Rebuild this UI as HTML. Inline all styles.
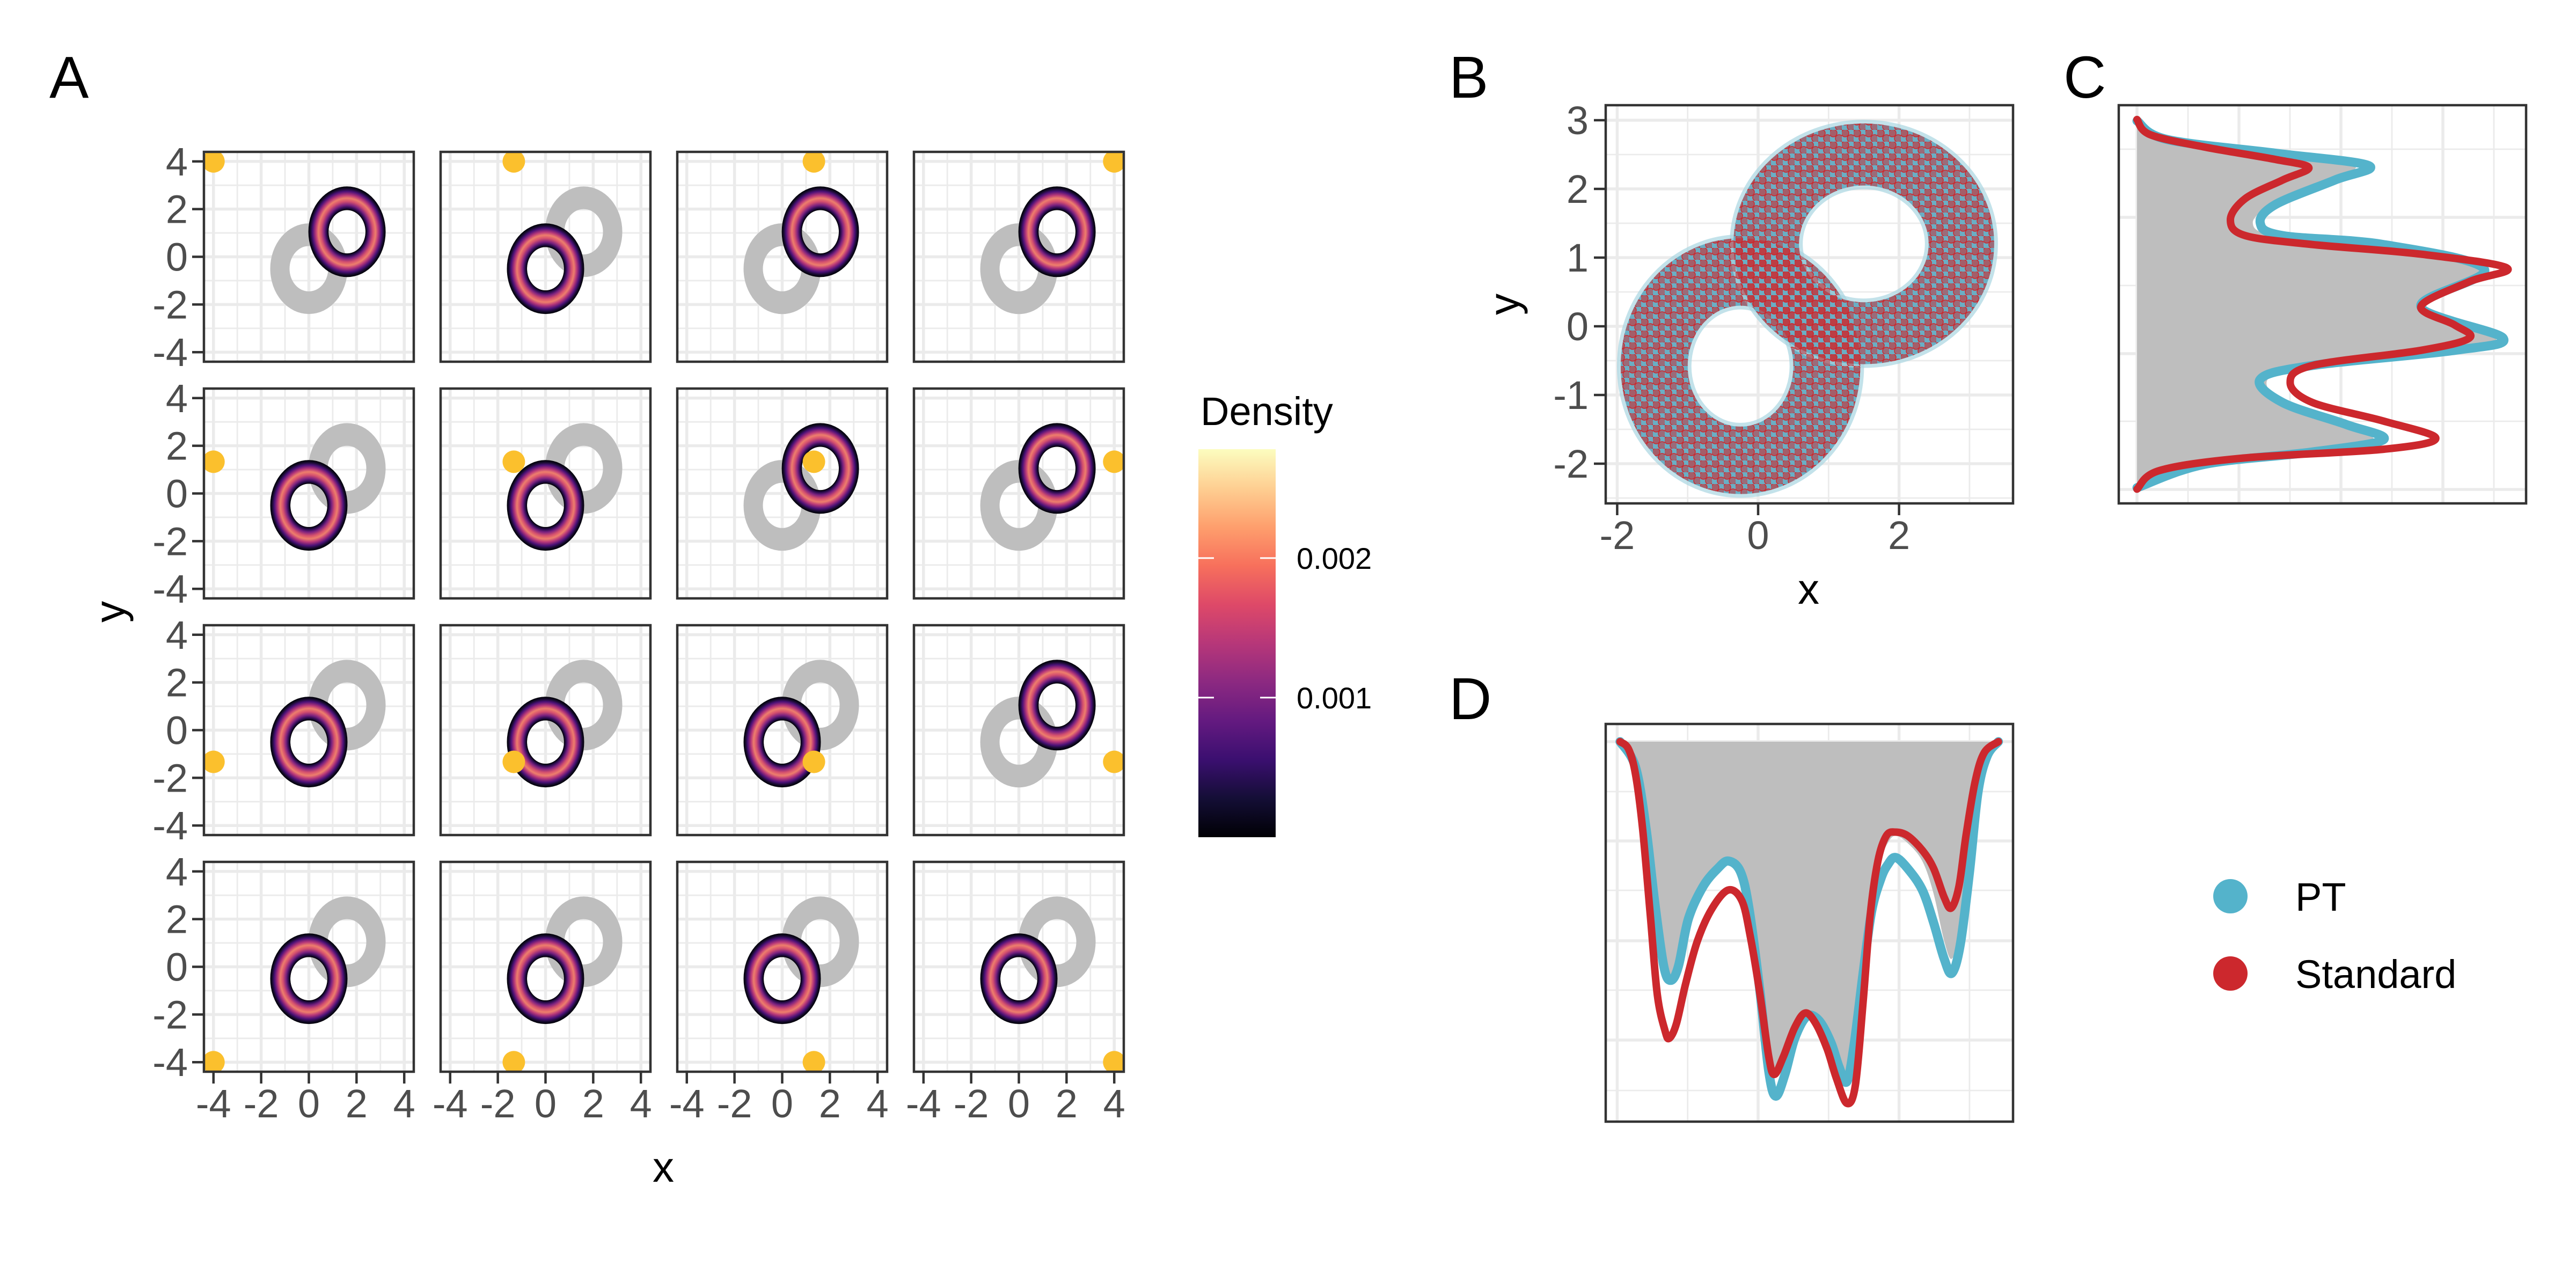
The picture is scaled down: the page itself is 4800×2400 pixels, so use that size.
<!DOCTYPE html>
<html>
<head>
<meta charset="utf-8">
<style>
  html,body{margin:0;padding:0;background:#fff;}
  svg{display:block;}
  text{font-family:"Liberation Sans", sans-serif;}
</style>
</head>
<body>
<svg id="fig" xmlns="http://www.w3.org/2000/svg" width="4800" height="2400" viewBox="0 0 4800 2400">
  <defs>
    <linearGradient id="magmaBar" x1="0" y1="1" x2="0" y2="0">
      <stop offset="0" stop-color="#000004"/>
      <stop offset="0.1" stop-color="#140e36"/>
      <stop offset="0.2" stop-color="#3b0f70"/>
      <stop offset="0.3" stop-color="#641a80"/>
      <stop offset="0.4" stop-color="#8c2981"/>
      <stop offset="0.5" stop-color="#b73779"/>
      <stop offset="0.6" stop-color="#de4968"/>
      <stop offset="0.7" stop-color="#f7705c"/>
      <stop offset="0.8" stop-color="#fe9f6d"/>
      <stop offset="0.9" stop-color="#fecf92"/>
      <stop offset="1" stop-color="#fcfdbf"/>
    </linearGradient>
    <radialGradient id="ringGrad" cx="0.5" cy="0.5" r="0.5">
      <stop offset="0" stop-color="#000" stop-opacity="0"/>
      <stop offset="0.475" stop-color="#000" stop-opacity="0"/>
      <stop offset="0.48" stop-color="#000004"/>
      <stop offset="0.53" stop-color="#2a0c4e"/>
      <stop offset="0.59" stop-color="#7a2180"/>
      <stop offset="0.67" stop-color="#d5506e"/>
      <stop offset="0.74" stop-color="#ee7f6c"/>
      <stop offset="0.81" stop-color="#b73779"/>
      <stop offset="0.89" stop-color="#4c1178"/>
      <stop offset="0.95" stop-color="#150a2c"/>
      <stop offset="1" stop-color="#000004"/>
    </radialGradient>
    <pattern id="redDots" patternUnits="userSpaceOnUse" width="22" height="22">
      <circle cx="6" cy="6" r="7" fill="#cc282d" fill-opacity="0.6" stroke="#cc282d" stroke-width="1.5"/>
      <circle cx="17" cy="16" r="7" fill="#cc282d" fill-opacity="0.5" stroke="#cc282d" stroke-width="1.5"/>
    </pattern>
  </defs>
</svg>
<script>
// ---------- DATA ----------
// Panel A
const aRingCenterX = [0, 1.6];
const aRingCenterY = [-0.5, 1.05];
const aRingRx = [1.62, 1.62];
const aRingRy = [1.9, 1.9];
const aRingInner = [0.5, 0.5];
const aFacetRing = [1,0,1,1, 0,0,1,1, 0,0,0,1, 0,0,0,0];
const aDotX = [-4, -1.33, 1.33, 4];
const aDotY = [4, 1.33, -1.33, -4];
const aTicks = [-4, -2, 0, 2, 4];
const aTickLabels = ["-4", "-2", "0", "2", "4"];
// Colourbar
const cbTicks = [0.001, 0.002];
const cbTickLabels = ["0.001", "0.002"];
const cbMax = 0.00278;
// Panel B
const bRingCenterX = [-0.25, 1.5];
const bRingCenterY = [-0.58, 1.2];
const bRingRx = [1.7, 1.85];
const bRingRy = [1.86, 1.75];
const bRingInRx = [0.75, 0.92];
const bRingInRy = [0.88, 0.85];
const bXTicks = [-2, 0, 2];
const bXTickLabels = ["-2", "0", "2"];
const bYTicks = [-2, -1, 0, 1, 2, 3];
const bYTickLabels = ["-2", "-1", "0", "1", "2", "3"];
// Panel C (density of y)
const cStdY = [3.01,2.79,2.61,2.43,2.31,2.13,1.86,1.55,1.32,1.19,1.05,0.85,0.65,0.29,0.02,-0.17,-0.35,-0.57,-0.82,-1.11,-1.38,-1.63,-1.79,-1.92,-2.10,-2.37];
const cStdD = [0,0.035,0.18,0.37,0.46,0.39,0.29,0.25,0.29,0.47,0.76,0.99,0.89,0.76,0.85,0.89,0.76,0.47,0.41,0.47,0.66,0.80,0.66,0.28,0.06,0];
const cPtY = [2.99,2.72,2.52,2.34,2.13,1.77,1.50,1.32,1.19,0.83,0.29,-0.17,-0.35,-0.57,-0.77,-1.11,-1.43,-1.65,-1.83,-2.01,-2.35];
const cPtD = [0,0.08,0.37,0.62,0.53,0.37,0.33,0.39,0.66,0.93,0.76,0.98,0.85,0.47,0.33,0.39,0.56,0.66,0.47,0.18,0];
const cGrayD = [0,0.07,0.34,0.58,0.50,0.36,0.31,0.37,0.63,0.93,0.75,0.96,0.83,0.46,0.35,0.39,0.54,0.63,0.45,0.16,0];
// Panel D (density of x)
const dStdX = [-1.96,-1.84,-1.74,-1.64,-1.53,-1.43,-1.32,-1.26,-1.16,-1.03,-0.86,-0.65,-0.42,-0.23,-0.11,0.02,0.15,0.23,0.36,0.52,0.67,0.82,0.98,1.11,1.26,1.38,1.49,1.59,1.70,1.82,1.95,2.12,2.33,2.49,2.64,2.74,2.85,2.95,3.08,3.21,3.41];
const dStdD = [0,0.02,0.09,0.24,0.48,0.70,0.80,0.82,0.78,0.67,0.55,0.46,0.41,0.44,0.54,0.69,0.87,0.92,0.87,0.79,0.75,0.78,0.85,0.93,1.0,0.95,0.72,0.48,0.33,0.26,0.25,0.26,0.30,0.35,0.43,0.46,0.40,0.26,0.11,0.03,0];
const dPtX = [-1.96,-1.74,-1.59,-1.47,-1.34,-1.24,-1.13,-0.99,-0.78,-0.57,-0.42,-0.25,-0.13,0.02,0.15,0.25,0.38,0.52,0.69,0.86,1.03,1.15,1.26,1.36,1.49,1.61,1.74,1.84,1.95,2.12,2.33,2.49,2.64,2.75,2.87,3.00,3.12,3.25,3.41];
const dPtD = [0,0.07,0.24,0.44,0.62,0.66,0.62,0.49,0.40,0.35,0.33,0.36,0.46,0.68,0.91,0.98,0.92,0.82,0.76,0.77,0.83,0.90,0.94,0.84,0.64,0.47,0.38,0.34,0.32,0.35,0.41,0.50,0.60,0.64,0.56,0.36,0.14,0.04,0];
const dGrayD = [0,0.07,0.24,0.44,0.62,0.66,0.62,0.49,0.40,0.35,0.33,0.34,0.42,0.62,0.85,0.92,0.88,0.80,0.75,0.77,0.83,0.90,0.95,0.84,0.64,0.45,0.33,0.28,0.26,0.28,0.33,0.42,0.55,0.60,0.52,0.34,0.13,0.04,0];
// Legend
const legendLabels = ["PT", "Standard"];
const legendColors = ["#54b3cb", "#cc282d"];

// ---------- HELPERS ----------
const NS = "http://www.w3.org/2000/svg";
const svg = document.getElementById("fig");
function el(tag, attrs, parent) {
  const e = document.createElementNS(NS, tag);
  for (const k in attrs) e.setAttribute(k, attrs[k]);
  (parent || svg).appendChild(e);
  return e;
}
function txt(s, attrs, parent) {
  const e = el("text", attrs, parent);
  e.textContent = s;
  return e;
}
function ellPath(cx, cy, rx, ry) {
  return "M" + (cx - rx) + "," + cy + "A" + rx + "," + ry + " 0 1,0 " + (cx + rx) + "," + cy + "A" + rx + "," + ry + " 0 1,0 " + (cx - rx) + "," + cy + "Z";
}
function ringPath(cx, cy, rxo, ryo, rxi, ryi) {
  return ellPath(cx, cy, rxo, ryo) + ellPath(cx, cy, rxi, ryi);
}
function smooth(pts) {
  let d = "M" + pts[0][0].toFixed(1) + "," + pts[0][1].toFixed(1);
  for (let i = 0; i < pts.length - 1; i++) {
    const p0 = pts[i - 1] || pts[i], p1 = pts[i], p2 = pts[i + 1], p3 = pts[i + 2] || pts[i + 1];
    const c1x = p1[0] + (p2[0] - p0[0]) / 6, c1y = p1[1] + (p2[1] - p0[1]) / 6;
    const c2x = p2[0] - (p3[0] - p1[0]) / 6, c2y = p2[1] - (p3[1] - p1[1]) / 6;
    d += "C" + c1x.toFixed(1) + "," + c1y.toFixed(1) + " " + c2x.toFixed(1) + "," + c2y.toFixed(1) + " " + p2[0].toFixed(1) + "," + p2[1].toFixed(1);
  }
  return d;
}
const GRID = "#ebebeb", BORDER = "#333333", TICKTXT = "#4d4d4d";
const TICKFS = 74, TITLEFS = 80, PANELFS = 110;

// panel letters
[["A",92,182],["B",2700,182],["C",3845,182],["D",2700,1340]].forEach(p => {
  const t = txt(p[0], {x:p[1], y:p[2], "font-size":PANELFS, fill:"#000"});
  
  
});

// ---------- PANEL A ----------
const gA = el("g", {});


const aSize = 391, aStep = 441, aLeft0 = 380, aTop0 = 283, aMin = -4.4, aMax = 4.4;
for (let r = 0; r < 4; r++) {
  for (let c = 0; c < 4; c++) {
    const idx = r * 4 + c;
    const left = aLeft0 + c * aStep, top = aTop0 + r * aStep;
    const sx = v => left + (v - aMin) / (aMax - aMin) * aSize;
    const sy = v => top + (aMax - v) / (aMax - aMin) * aSize;
    const k = aSize / (aMax - aMin);
    const g = el("g", {}, gA);
    
    
    const cp = el("clipPath", {id: "clipA" + idx}, g);
    el("rect", {x:left, y:top, width:aSize, height:aSize}, cp);
    const inner = el("g", {"clip-path": "url(#clipA" + idx + ")"}, g);
    el("rect", {x:left, y:top, width:aSize, height:aSize, fill:"#fff"}, inner);
    for (let v = -4; v <= 4; v++) {
      const w = (v % 2 === 0) ? 5.5 : 2.8;
      const gv = el("line", {x1:sx(v), x2:sx(v), y1:top, y2:top + aSize, stroke:GRID, "stroke-width":w}, inner);
      
      
      const gh = el("line", {x1:left, x2:left + aSize, y1:sy(v), y2:sy(v), stroke:GRID, "stroke-width":w}, inner);
      
      
    }
    for (let j = 0; j < aRingCenterX.length; j++) {
      const gr = el("path", {d: ringPath(sx(aRingCenterX[j]), sy(aRingCenterY[j]), aRingRx[j] * k, aRingRy[j] * k, aRingRx[j] * aRingInner[j] * k, aRingRy[j] * aRingInner[j] * k), fill:"#bebebe", "fill-rule":"evenodd"}, inner);
      
      
    }
    const ri = aFacetRing[idx];
    const ring = el("ellipse", {cx:sx(aRingCenterX[ri]), cy:sy(aRingCenterY[ri]), rx:aRingRx[ri] * k, ry:aRingRy[ri] * k, fill:"url(#ringGrad)"}, inner);
    
    
    const dot = el("circle", {cx:sx(aDotX[c]), cy:sy(aDotY[r]), r:21, fill:"#fbc02d"}, inner);
    
    
    const bd = el("rect", {x:left, y:top, width:aSize, height:aSize, fill:"none", stroke:BORDER, "stroke-width":4.5}, g);
    
    
    if (c === 0) {
      aTicks.forEach((t, i) => {
        const tk = el("line", {x1:left - 22, x2:left, y1:sy(t), y2:sy(t), stroke:BORDER, "stroke-width":4.5}, g);
        
        
        const tl = txt(aTickLabels[i], {x:left - 30, y:sy(t) + 26, "text-anchor":"end", "font-size":TICKFS, fill:TICKTXT}, g);
        
        
      });
    }
    if (r === 3) {
      aTicks.forEach((t, i) => {
        const tk = el("line", {x1:sx(t), x2:sx(t), y1:top + aSize, y2:top + aSize + 22, stroke:BORDER, "stroke-width":4.5}, g);
        
        
        const tl = txt(aTickLabels[i], {x:sx(t), y:top + aSize + 85, "text-anchor":"middle", "font-size":TICKFS, fill:TICKTXT}, g);
        
        
      });
    }
  }
}
const axA = txt("x", {x:1236, y:2202, "text-anchor":"middle", "font-size":TITLEFS, fill:"#000"}, gA);


const ayA = txt("y", {x:0, y:0, "text-anchor":"middle", "font-size":TITLEFS, fill:"#000", transform:"translate(232,1140) rotate(-90)"}, gA);



// ---------- COLOURBAR ----------
const gCb = el("g", {});


const cbX = 2233, cbW = 144, cbTop = 837, cbBot = 1560;
const cbY = v => cbBot - v / cbMax * (cbBot - cbTop);
const cbT = txt("Density", {x:2237, y:792, "font-size":74, fill:"#000"}, gCb);


const cbR = el("rect", {x:cbX, y:cbTop, width:cbW, height:cbBot - cbTop, fill:"url(#magmaBar)"}, gCb);


cbTicks.forEach((v, i) => {
  const l1 = el("line", {x1:cbX, x2:cbX + 29, y1:cbY(v), y2:cbY(v), stroke:"#fff", "stroke-width":3}, gCb);
  
  
  const l2 = el("line", {x1:cbX + cbW - 29, x2:cbX + cbW, y1:cbY(v), y2:cbY(v), stroke:"#fff", "stroke-width":3}, gCb);
  
  
  const tl = txt(cbTickLabels[i], {x:2416, y:cbY(v) + 20, "font-size":56, fill:"#000"}, gCb);
  
  
});

// ---------- PANEL B ----------
const gB = el("g", {});


const bL = 2992, bR = 3751, bT = 196, bBt = 938;
const bx = v => 3276 + v * 131.3;
const by = v => 224 + (3 - v) * 128;
const cpB = el("clipPath", {id:"clipB"}, gB);
el("rect", {x:bL, y:bT, width:bR - bL, height:bBt - bT}, cpB);
const bIn = el("g", {"clip-path":"url(#clipB)"}, gB);
for (let v = -2; v <= 3; v++) {
  const l = el("line", {x1:bx(v), x2:bx(v), y1:bT, y2:bBt, stroke:GRID, "stroke-width": (v % 2 === 0) ? 5.5 : 2.8}, bIn);
  
  
}
for (let v = -2.5; v <= 3.01; v += 0.5) {
  const major = Math.abs(v - Math.round(v)) < 1e-6;
  const l = el("line", {x1:bL, x2:bR, y1:by(v), y2:by(v), stroke:GRID, "stroke-width": major ? 5.5 : 2.8}, bIn);
  
  
}
const bkx = 131.3, bky = 128;
function bRing(j) {
  return ringPath(bx(bRingCenterX[j]), by(bRingCenterY[j]), bRingRx[j] * bkx, bRingRy[j] * bky, bRingInRx[j] * bkx, bRingInRy[j] * bky);
}
for (let j = 0; j < bRingCenterX.length; j++) {
  const r0 = el("path", {d: bRing(j), fill:"none", stroke:"#a9d5e1", "stroke-width":14, "stroke-opacity":0.7}, bIn);
  
  
  const r1 = el("path", {d: bRing(j), fill:"#6aaec4", "fill-rule":"evenodd"}, bIn);
  
  
}
for (let j = 0; j < bRingCenterX.length; j++) {
  const r2 = el("path", {d: bRing(j), fill:"url(#redDots)", "fill-rule":"evenodd"}, bIn);
  
  
}
const bBd = el("rect", {x:bL, y:bT, width:bR - bL, height:bBt - bT, fill:"none", stroke:BORDER, "stroke-width":4.5}, gB);


bXTicks.forEach((t, i) => {
  const tk = el("line", {x1:bx(t), x2:bx(t), y1:bBt, y2:bBt + 22, stroke:BORDER, "stroke-width":4.5}, gB);
  
  
  const tl = txt(bXTickLabels[i], {x:bx(t), y:bBt + 85, "text-anchor":"middle", "font-size":TICKFS, fill:TICKTXT}, gB);
  
  
});
bYTicks.forEach((t, i) => {
  const tk = el("line", {x1:bL - 22, x2:bL, y1:by(t), y2:by(t), stroke:BORDER, "stroke-width":4.5}, gB);
  
  
  const tl = txt(bYTickLabels[i], {x:bL - 32, y:by(t) + 26, "text-anchor":"end", "font-size":TICKFS, fill:TICKTXT}, gB);
  
  
});
const bxT = txt("x", {x:3370, y:1125, "text-anchor":"middle", "font-size":TITLEFS, fill:"#000"}, gB);


const byT = txt("y", {x:0, y:0, "text-anchor":"middle", "font-size":TITLEFS, fill:"#000", transform:"translate(2830,567) rotate(-90)"}, gB);



// ---------- PANEL C ----------
const gC = el("g", {});


const cL = 3948, cR = 4707, cT = 196, cB = 938;
const cx = d => 3982 + d * 696;
const cy = by;
const cpC = el("clipPath", {id:"clipC"}, gC);
el("rect", {x:cL, y:cT, width:cR - cL, height:cB - cT}, cpC);
const cIn = el("g", {"clip-path":"url(#clipC)"}, gC);
[3982, 4077, 4172, 4267, 4362, 4457, 4552, 4647].forEach((x, i) => {
  const l = el("line", {x1:x, x2:x, y1:cT, y2:cB, stroke:GRID, "stroke-width": i % 2 === 0 ? 5.5 : 2.8}, cIn);
  
  
});
[278, 405, 532, 659, 785, 912].forEach((y, i) => {
  const l = el("line", {x1:cL, x2:cR, y1:y, y2:y, stroke:GRID, "stroke-width": i % 2 === 1 ? 5.5 : 2.8}, cIn);
  
  
});
const cGrayPts = cPtY.map((y, i) => [cx(cGrayD[i]), cy(y)]);
const cArea = el("path", {d: smooth(cGrayPts) + "Z", fill:"#bebebe"}, cIn);


const cPt = el("path", {d: smooth(cPtY.map((y, i) => [cx(cPtD[i]), cy(y)])), fill:"none", stroke:legendColors[0], "stroke-width":17, "stroke-linecap":"round", "stroke-linejoin":"round"}, cIn);


const cSt = el("path", {d: smooth(cStdY.map((y, i) => [cx(cStdD[i]), cy(y)])), fill:"none", stroke:legendColors[1], "stroke-width":14, "stroke-linecap":"round", "stroke-linejoin":"round"}, cIn);


const cBd = el("rect", {x:cL, y:cT, width:cR - cL, height:cB - cT, fill:"none", stroke:BORDER, "stroke-width":4.5}, gC);



// ---------- PANEL D ----------
const gD = el("g", {});


const dL = 2992, dR = 3751, dT = 1349, dB = 2090;
const dx = bx;
const dy = d => 1382 + d * 674;
const cpD = el("clipPath", {id:"clipD"}, gD);
el("rect", {x:dL, y:dT, width:dR - dL, height:dB - dT}, cpD);
const dIn = el("g", {"clip-path":"url(#clipD)"}, gD);
for (let v = -2; v <= 3; v++) {
  const l = el("line", {x1:dx(v), x2:dx(v), y1:dT, y2:dB, stroke:GRID, "stroke-width": (v % 2 === 0) ? 5.5 : 2.8}, dIn);
  
  
}
[1382, 1475, 1567, 1659, 1753, 1845, 1938, 2032].forEach((y, i) => {
  const l = el("line", {x1:dL, x2:dR, y1:y, y2:y, stroke:GRID, "stroke-width": i % 2 === 0 ? 5.5 : 2.8}, dIn);
  
  
});
const dArea = el("path", {d: smooth(dPtX.map((x, i) => [dx(x), dy(dGrayD[i])])) + "Z", fill:"#bebebe"}, dIn);


const dPt = el("path", {d: smooth(dPtX.map((x, i) => [dx(x), dy(dPtD[i])])), fill:"none", stroke:legendColors[0], "stroke-width":17, "stroke-linecap":"round", "stroke-linejoin":"round"}, dIn);


const dSt = el("path", {d: smooth(dStdX.map((x, i) => [dx(x), dy(dStdD[i])])), fill:"none", stroke:legendColors[1], "stroke-width":14, "stroke-linecap":"round", "stroke-linejoin":"round"}, dIn);


const dBd = el("rect", {x:dL, y:dT, width:dR - dL, height:dB - dT, fill:"none", stroke:BORDER, "stroke-width":4.5}, gD);



// ---------- LEGEND ----------
const gL = el("g", {});


legendLabels.forEach((lab, i) => {
  const yC = 1670 + i * 144;
  const k = el("circle", {cx:4156, cy:yC, r:32, fill:legendColors[i]}, gL);
  
  
  const t = txt(lab, {x:4277, y:yC + 27, "font-size":74, fill:"#000"}, gL);
  
  
});
</script>
</body>
</html>
